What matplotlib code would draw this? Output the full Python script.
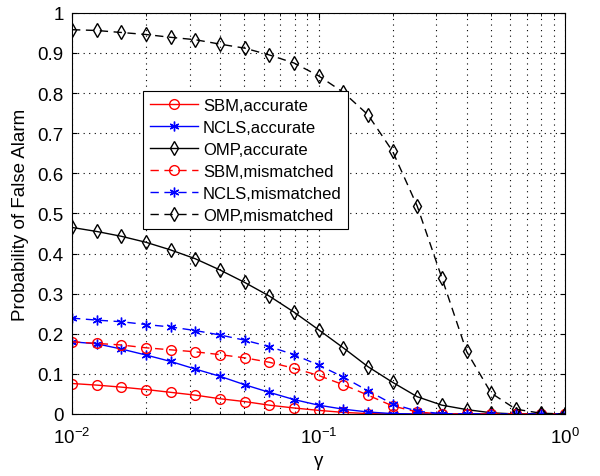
import numpy as np
import matplotlib
matplotlib.use("Agg")
import matplotlib.pyplot as plt

plt.rcParams['font.family'] = ['Liberation Sans', 'DejaVu Sans']

gamma = np.logspace(-2, 0, 21)

sbm_acc = [0.076, 0.072, 0.067, 0.061, 0.054, 0.047, 0.038, 0.031, 0.022, 0.015,
           0.009, 0.004, 0.001, 0, 0, 0, 0, 0, 0, 0, 0]
ncls_acc = [0.180, 0.175, 0.162, 0.147, 0.131, 0.112, 0.094, 0.073, 0.054, 0.036,
            0.022, 0.012, 0.005, 0.001, 0, 0, 0, 0, 0, 0, 0]
omp_acc = [0.465, 0.455, 0.443, 0.428, 0.409, 0.387, 0.359, 0.328, 0.294, 0.254,
           0.210, 0.165, 0.118, 0.079, 0.043, 0.022, 0.011, 0.003, 0, 0, 0]
sbm_mis = [0.180, 0.176, 0.172, 0.165, 0.160, 0.155, 0.148, 0.140, 0.129, 0.114,
           0.096, 0.073, 0.047, 0.020, 0.005, 0, 0, 0, 0, 0, 0]
ncls_mis = [0.239, 0.234, 0.230, 0.223, 0.217, 0.208, 0.197, 0.184, 0.168, 0.148,
            0.122, 0.092, 0.058, 0.025, 0.007, 0.001, 0, 0, 0, 0, 0]
omp_mis = [0.958, 0.956, 0.951, 0.946, 0.939, 0.933, 0.922, 0.912, 0.895, 0.875,
           0.843, 0.802, 0.746, 0.655, 0.518, 0.339, 0.156, 0.052, 0.012, 0.002, 0]

labels = ['SBM,accurate', 'NCLS,accurate', 'OMP,accurate',
          'SBM,mismatched', 'NCLS,mismatched', 'OMP,mismatched']

fig = plt.figure(figsize=(6, 4.77), dpi=100)
ax = fig.add_axes([0.12, 0.130, 0.822, 0.841])

star = (6, 2, 0)
common = dict(lw=1.0, mfc='none', ms=7, mew=1.0)
ax.semilogx(gamma, sbm_acc, '-', color='#ff0000', marker='o', label=labels[0], **common)
ax.semilogx(gamma, ncls_acc, '-', color='#0000ff', marker=star, label=labels[1], **common)
ax.semilogx(gamma, omp_acc, '-', color='black', marker='d', label=labels[2], **common)
ax.semilogx(gamma, sbm_mis, '--', color='#ff0000', marker='o', label=labels[3], dashes=(6, 4), **common)
ax.semilogx(gamma, ncls_mis, '--', color='#0000ff', marker=star, label=labels[4], dashes=(6, 4), **common)
ax.semilogx(gamma, omp_mis, '--', color='black', marker='d', label=labels[5], dashes=(6, 4), **common)

ax.set_xlim(1e-2, 1)
ax.set_ylim(0, 1)
ax.set_yticks(np.arange(0, 1.01, 0.1))
ax.set_yticklabels(['0', '0.1', '0.2', '0.3', '0.4', '0.5', '0.6', '0.7', '0.8', '0.9', '1'])
ax.grid(True, which='major', axis='both', ls=(0, (1, 4)), color='black', lw=0.8)
ax.grid(True, which='minor', axis='x', ls=(0, (1, 4)), color='black', lw=0.8)
ax.tick_params(which='both', direction='in', top=True, right=True, labelsize=13.5)
ax.tick_params(axis='x', which='major', pad=9)
ax.tick_params(axis='y', which='major', pad=6)
ax.tick_params(which='minor', labelbottom=False)
ax.set_xlabel('γ', fontsize=13.5, labelpad=4)
ax.set_ylabel('Probability of False Alarm', fontsize=13.5, labelpad=6)

leg = ax.legend(loc='upper left', bbox_to_anchor=(0.144, 0.805), fontsize=12,
                frameon=True, fancybox=False, edgecolor='black', framealpha=1,
                handlelength=2.9, borderaxespad=0, labelspacing=0.42, handletextpad=0.3,
                borderpad=0.4)
leg.get_frame().set_linewidth(0.8)

fig.savefig('out.png', dpi=100)
